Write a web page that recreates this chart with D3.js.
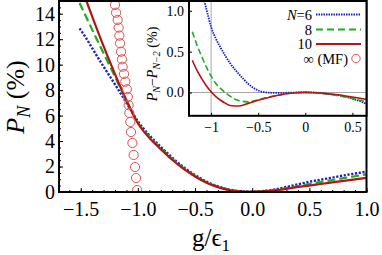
<!DOCTYPE html>
<html>
<head>
<meta charset="utf-8">
<script src="https://cdn.jsdelivr.net/npm/d3@7"></script>
<style>
  body { margin: 0; background: #fff; }
  svg { display: block; }
  text { font-family: "Liberation Serif", "Times New Roman", serif; fill: #000; }
</style>
</head>
<body>
<svg id="chart" width="382" height="255"></svg>
<script>
// ---- main panel data: P_N (%) vs g/eps1
const gMain = [-1.51, -1.45, -1.4, -1.3, -1.2, -1.1, -1.0, -0.9, -0.8, -0.7, -0.6, -0.5, -0.4, -0.3, -0.2, -0.1,
  0, 0.1, 0.2, 0.3, 0.4, 0.5, 0.6, 0.7, 0.8, 0.9, 1.0];
const p6 = [12.85, 12.05, 11.3, 9.85, 8.45, 7.0, 5.55, 4.45, 3.55, 2.7, 1.95, 1.33, 0.82, 0.44, 0.19, 0.06,
  0.03, 0.08, 0.2, 0.4, 0.6, 0.8, 0.97, 1.13, 1.3, 1.45, 1.6];
const p8 = [14.85, 13.7, 12.75, 10.9, 9.05, 7.15, 5.45, 4.35, 3.45, 2.6, 1.87, 1.27, 0.77, 0.41, 0.17, 0.05,
  0.02, 0.06, 0.16, 0.3, 0.46, 0.63, 0.79, 0.94, 1.09, 1.24, 1.39];
const p10 = [null, 15.0, 13.8, 11.45, 9.25, 7.2, 5.4, 4.25, 3.37, 2.53, 1.81, 1.22, 0.73, 0.38, 0.15, 0.04,
  0.02, 0.05, 0.13, 0.24, 0.4, 0.5, 0.63, 0.75, 0.87, 0.99, 1.11];
// mean-field points (circles)
const mfG = [-1.200, -1.191, -1.177, -1.168, -1.162, -1.156, -1.147, -1.139, -1.133, -1.121, -1.110,
  -1.096, -1.088, -1.081, -1.075, -1.066, -1.060, -1.048, -1.037, -1.025, -1.016, -1.007];
const mfP = [14.69, 14.08, 13.51, 12.91, 12.28, 11.68, 11.02, 10.42, 9.84, 9.27, 8.66,
  8.07, 7.46, 6.83, 6.21, 5.50, 4.71, 3.85, 2.91, 1.96, 1.10, 0.16];

// ---- inset data: P_N - P_{N-2} (%)
const gIn = [-1.2, -1.15, -1.1, -1.05, -1.0, -0.95, -0.9, -0.85, -0.8, -0.7, -0.6, -0.5, -0.4, -0.3, -0.2, -0.1,
  0, 0.1, 0.2, 0.3, 0.4, 0.5, 0.6, 0.65];
const d6 = [null, null, 1.24, 1.02, 0.80, 0.66, 0.55, 0.45, 0.36, 0.22, 0.10, 0.025, 0.0, -0.005, -0.003, 0.0,
  0.003, 0.0, -0.01, -0.025, -0.045, -0.075, -0.115, -0.14];
const d8 = [0.745, 0.58, 0.44, 0.31, 0.20, 0.11, 0.05, 0.0, -0.045, -0.10, -0.115, -0.09, -0.06, -0.035, -0.015, -0.003,
  0.002, -0.003, -0.015, -0.03, -0.05, -0.072, -0.10, -0.114];
const d10 = [0.395, 0.27, 0.17, 0.08, 0.01, -0.05, -0.095, -0.13, -0.158, -0.165, -0.13, -0.095, -0.063, -0.036, -0.015, -0.003,
  0.002, -0.002, -0.01, -0.022, -0.037, -0.055, -0.075, -0.085];

const xTicks = [-1.5, -1.0, -0.5, 0.0, 0.5, 1.0];
const yTicks = [0, 2, 4, 6, 8, 10, 12, 14];
const inXTicks = [-1, -0.5, 0, 0.5];
const inYTicks = [0, 0.5, 1];

const blue = '#1e1ec8', green = '#1fae1f', red = '#b31515', mfRed = '#d65555';
const minus = s => String(s).replace('-', '\u2212');

const svg = d3.select('#chart');

// ---- main panel
const x = d3.scaleLinear().domain([-1.69, 1.0]).range([59, 366.5]);
const y = d3.scaleLinear().domain([0, 15]).range([192, 1]);

svg.append('clipPath').attr('id', 'clipMain')
  .append('rect').attr('x', 59).attr('y', 1).attr('width', 307.5).attr('height', 191);

const main = svg.append('g').attr('clip-path', 'url(#clipMain)');

const series = [
  { v: p6, color: blue, dash: '2.2,1.6', w: 2.4 },
  { v: p8, color: green, dash: '8,4', w: 2.2 },
  { v: p10, color: red, dash: null, w: 2.2 }
];

series.forEach(s => {
  const line = d3.line()
    .defined((d, i) => s.v[i] != null)
    .x(d => x(d))
    .y((d, i) => y(s.v[i]))
    .curve(d3.curveMonotoneX);
  main.append('path')
    .datum(gMain)
    .attr('fill', 'none')
    .attr('stroke', s.color)
    .attr('stroke-width', s.w)
    .attr('stroke-dasharray', s.dash)
    .attr('d', line);
});

main.selectAll('.mf')
  .data(mfG)
  .join('circle')
  .attr('class', 'mf')
  .attr('cx', d => x(d))
  .attr('cy', (d, i) => y(mfP[i]))
  .attr('r', 4.6)
  .attr('fill', 'none')
  .attr('stroke', mfRed)
  .attr('stroke-width', 1);

// axes (ticks pointing inward)
svg.append('g')
  .attr('transform', 'translate(0,192)')
  .call(d3.axisBottom(x).tickValues(d3.range(-16, 11).map(i => i / 10)).tickSize(-2).tickFormat(''))
  .call(g => g.select('.domain').remove());
svg.append('g')
  .attr('transform', 'translate(0,192)')
  .call(d3.axisBottom(x).tickValues(xTicks).tickSize(-4).tickPadding(10)
    .tickFormat(d => minus(d3.format('.1f')(d))))
  .call(g => g.select('.domain').remove())
  .selectAll('text').attr('font-size', 20);

svg.append('g')
  .attr('transform', 'translate(59,0)')
  .call(d3.axisLeft(y).tickValues(d3.range(0, 15, 0.5)).tickSize(-2).tickFormat(''))
  .call(g => g.select('.domain').remove());
svg.append('g')
  .attr('transform', 'translate(59,0)')
  .call(d3.axisLeft(y).tickValues(yTicks).tickSize(-4).tickPadding(4))
  .call(g => g.select('.domain').remove())
  .selectAll('text').attr('font-size', 20);

svg.selectAll('.tick line').attr('stroke', '#000');
svg.selectAll('.tick text').attr('font-family', '"Liberation Serif", serif');

svg.append('rect')
  .attr('x', 59).attr('y', 1).attr('width', 307.5).attr('height', 191)
  .attr('fill', 'none').attr('stroke', '#000').attr('stroke-width', 2);

// axis titles
const yLab = svg.append('text')
  .attr('transform', 'translate(24,97) rotate(-90)')
  .attr('text-anchor', 'middle')
  .attr('font-size', 26);
yLab.append('tspan').attr('font-style', 'italic').text('P');
yLab.append('tspan').attr('font-style', 'italic').attr('font-size', 18).attr('dy', 6).text('N');
yLab.append('tspan').attr('dy', -6).text(' (%)');

const xLab = svg.append('text')
  .attr('x', 211).attr('y', 246)
  .attr('text-anchor', 'middle')
  .attr('font-size', 25);
xLab.append('tspan').text('g/\u03f5');
xLab.append('tspan').attr('font-size', 17).attr('dy', 5).text('1');

// ---- inset
const xi = d3.scaleLinear().domain([-1.235, 0.65]).range([189, 366.5]);
const yi = d3.scaleLinear().domain([-0.285, 1.12]).range([115.8, 1]);

svg.append('rect')
  .attr('x', 189).attr('y', 1).attr('width', 177.5).attr('height', 114.8)
  .attr('fill', '#fff');

svg.append('clipPath').attr('id', 'clipIn')
  .append('rect').attr('x', 189).attr('y', 1).attr('width', 177.5).attr('height', 114.8);

const inset = svg.append('g').attr('clip-path', 'url(#clipIn)');

inset.append('line')
  .attr('x1', xi(-1)).attr('x2', xi(-1)).attr('y1', 1).attr('y2', 116)
  .attr('stroke', '#a8a8a8').attr('stroke-width', 1);
inset.append('line')
  .attr('x1', 189).attr('x2', 367).attr('y1', yi(0)).attr('y2', yi(0))
  .attr('stroke', '#a8a8a8').attr('stroke-width', 1);

const inSeries = [
  { v: d6, color: blue, dash: '1.5,1', w: 1.8 },
  { v: d8, color: green, dash: '6,3', w: 1.6 },
  { v: d10, color: red, dash: null, w: 1.6 }
];
inSeries.forEach(s => {
  const line = d3.line()
    .defined((d, i) => s.v[i] != null)
    .x(d => xi(d))
    .y((d, i) => yi(s.v[i]))
    .curve(d3.curveMonotoneX);
  inset.append('path')
    .datum(gIn)
    .attr('fill', 'none')
    .attr('stroke', s.color)
    .attr('stroke-width', s.w)
    .attr('stroke-dasharray', s.dash)
    .attr('d', line);
});

svg.append('g')
  .attr('transform', 'translate(0,115.8)')
  .call(d3.axisBottom(xi).tickValues(inXTicks).tickSize(-3).tickPadding(6)
    .tickFormat(d => minus(d)))
  .call(g => g.select('.domain').remove())
  .selectAll('text').attr('font-size', 14);
svg.append('g')
  .attr('transform', 'translate(189,0)')
  .call(d3.axisLeft(yi).tickValues(inYTicks).tickSize(-3).tickPadding(5))
  .call(g => g.select('.domain').remove())
  .selectAll('text').attr('font-size', 14);
svg.selectAll('.tick line').attr('stroke', '#000');
svg.selectAll('.tick text').attr('font-family', '"Liberation Serif", serif');

svg.append('rect')
  .attr('x', 189).attr('y', 1).attr('width', 177.5).attr('height', 114.8)
  .attr('fill', 'none').attr('stroke', '#000').attr('stroke-width', 2);

const inLab = svg.append('text')
  .attr('transform', 'translate(157,64) rotate(-90)')
  .attr('text-anchor', 'middle')
  .attr('font-size', 14);
inLab.append('tspan').attr('font-style', 'italic').text('P');
inLab.append('tspan').attr('font-style', 'italic').attr('font-size', 10).attr('dy', 3).text('N');
inLab.append('tspan').attr('dy', -3).text('\u2212');
inLab.append('tspan').attr('font-style', 'italic').text('P');
inLab.append('tspan').attr('font-style', 'italic').attr('font-size', 10).attr('dy', 3).text('N\u22122');
inLab.append('tspan').attr('dy', -3).text(' (%)');

// legend
const legLabels = ['6', '8', '10'];
const legY = [14.5, 29.5, 44];
legLabels.forEach((lab, i) => {
  const t = svg.append('text')
    .attr('x', 312).attr('y', legY[i] + 5)
    .attr('text-anchor', 'end')
    .attr('font-size', 14.5);
  if (i === 0) {
    t.append('tspan').attr('font-style', 'italic').text('N');
    t.append('tspan').text('=' + lab);
  } else {
    t.text(lab);
  }
  const s = series[i];
  svg.append('line')
    .attr('x1', 316).attr('x2', 361)
    .attr('y1', legY[i]).attr('y2', legY[i])
    .attr('stroke', s.color)
    .attr('stroke-width', i === 0 ? 1.8 : 1.8)
    .attr('stroke-dasharray', i === 0 ? '1.5,1' : (i === 1 ? '7,4' : null));
});
svg.append('text')
  .attr('x', 348).attr('y', 63.5)
  .attr('text-anchor', 'end')
  .attr('font-size', 14.5)
  .text('\u221e (MF)');
svg.append('circle')
  .attr('cx', 356).attr('cy', 58.5).attr('r', 4.2)
  .attr('fill', 'none').attr('stroke', mfRed).attr('stroke-width', 1);
</script>
</body>
</html>
